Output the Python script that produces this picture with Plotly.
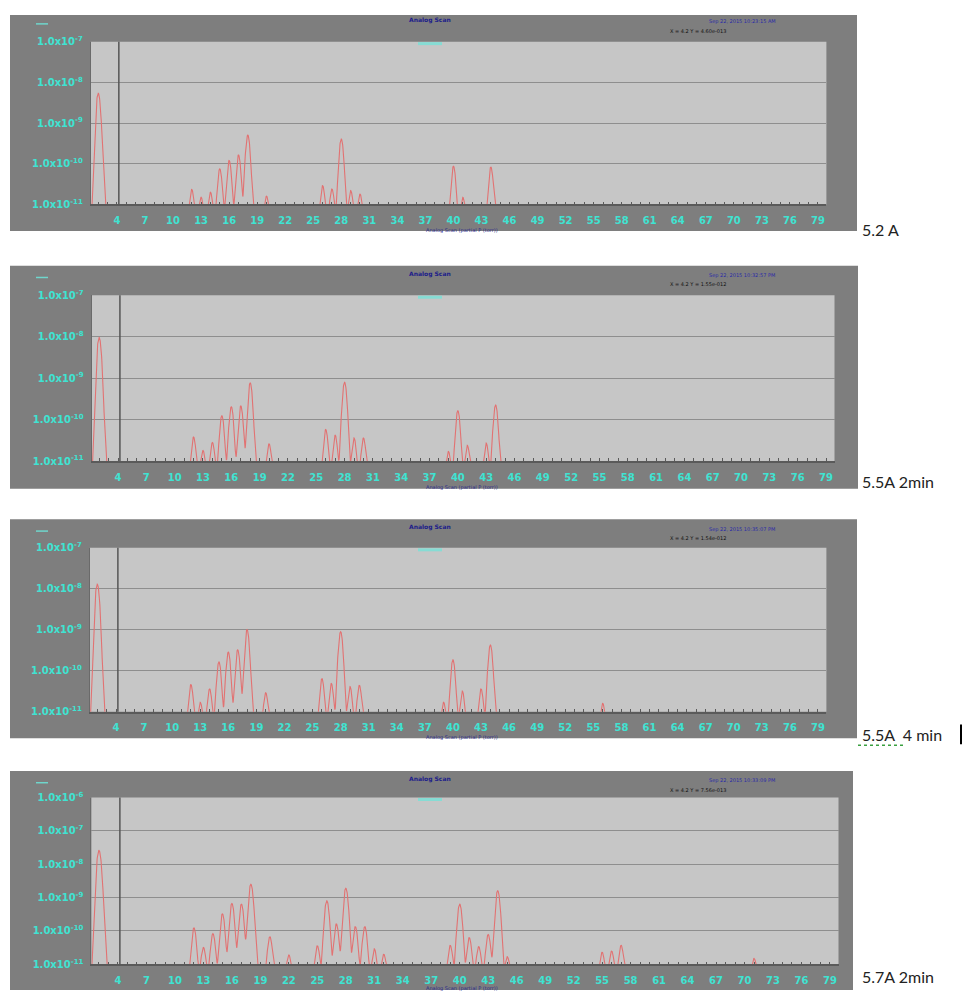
import math
import plotly.graph_objects as go

# page body has an 8px margin: the figure is drawn 8px in from the window corner
OFF = 8
W, H = 975 - 2 * OFF, 1000 - 2 * OFF

# ---------------- data (peak mass [amu], peak partial pressure [torr]) ----------------
masses_1 = [2, 12, 13, 14, 15, 16, 17, 18, 20, 26, 27, 28, 29, 30, 40, 41, 44]
pressures_1 = [5.4e-9, 1.95e-11, 1.1e-11, 1.6e-11, 7.1e-11, 1.17e-10, 1.6e-10, 5.0e-10, 1.2e-11,
               2.5e-11, 2.0e-11, 4.0e-10, 1.8e-11, 1.4e-11, 8.3e-11, 1.1e-11, 7.9e-11]

masses_2 = [2, 12, 13, 14, 15, 16, 17, 18, 20, 26, 27, 28, 29, 30, 39, 40, 41, 43, 44]
pressures_2 = [9.5e-9, 3.4e-11, 1.4e-11, 2.4e-11, 1.2e-10, 2.0e-10, 2.1e-10, 7.6e-10, 2.2e-11,
               5.4e-11, 3.8e-11, 7.9e-10, 3.2e-11, 3.2e-11, 1.3e-11, 1.6e-10, 2.0e-11, 2.3e-11, 2.2e-10]

masses_3 = [2, 12, 13, 14, 15, 16, 17, 18, 20, 26, 27, 28, 29, 30, 39, 40, 41, 43, 44, 56]
pressures_3 = [1.3e-8, 4.2e-11, 1.3e-11, 3.2e-11, 1.6e-10, 2.8e-10, 3.2e-10, 1.0e-9, 2.5e-11,
               6.0e-11, 4.5e-11, 8.9e-10, 3.7e-11, 4.0e-11, 1.3e-11, 1.8e-10, 2.8e-11, 3.2e-11, 4.2e-10, 1.2e-11]

masses_4 = [2, 12, 13, 14, 15, 16, 17, 18, 20, 22, 25, 26, 27, 28, 29, 30, 31, 32,
            39, 40, 41, 42, 43, 44, 45, 55, 56, 57, 71]
pressures_4 = [2.6e-8, 1.2e-10, 2.8e-11, 7.9e-11, 3.2e-10, 6.6e-10, 6.3e-10, 2.5e-9, 6.3e-11, 1.5e-11,
               3.2e-11, 8.0e-10, 1.6e-10, 1.9e-9, 1.3e-10, 1.3e-10, 2.5e-11, 1.6e-11,
               3.3e-11, 6.3e-10, 5.9e-11, 3.0e-11, 7.4e-11, 1.6e-9, 1.3e-11, 1.9e-11, 2.1e-11, 3.3e-11, 1.1e-11]

panel_labels = ["5.2 A", "5.5A 2min", "5.5A  4 min", "5.7A 2min"]
x_tick_values = list(range(4, 80, 3))
y_decades_1 = [-11, -10, -9, -8, -7]
y_decades_2 = [-11, -10, -9, -8, -7]
y_decades_3 = [-11, -10, -9, -8, -7]
y_decades_4 = [-11, -10, -9, -8, -7, -6]
scan_title = "Analog Scan"
scan_dates = ["Sep 22, 2015 10:23:15 AM", "Sep 22, 2015 10:32:57 PM",
              "Sep 22, 2015 10:35:07 PM", "Sep 22, 2015 10:33:09 PM"]
cursor_texts = ["X = 4.2 Y = 4.60e-013", "X = 4.2 Y = 1.55e-012",
                "X = 4.2 Y = 1.54e-012", "X = 4.2 Y = 7.56e-013"]
bottom_caption = "Analog Scan (partial P (torr))"

series = [(masses_1, pressures_1, y_decades_1), (masses_2, pressures_2, y_decades_2),
          (masses_3, pressures_3, y_decades_3), (masses_4, pressures_4, y_decades_4)]

# ---------------- geometry (window pixels) ----------------
panels = [
    dict(outer=(10, 5, 857, 227), plot=(90.8, 35, 826.4, 200)),
    dict(outer=(10, 262, 858, 488), plot=(91.6, 292, 834.5, 460)),
    dict(outer=(10, 519, 857, 741), plot=(89.8, 548, 826.4, 714)),
    dict(outer=(10, 774, 853, 996), plot=(91.4, 801, 838.5, 970)),
]
label_y = [225, 481, 737, 982]


def px(x):
    return (x - OFF) / W


def py(y):
    return 1 - (y - OFF) / H


OUTER = "#7e7e7e"
PLOT_BG = "#c6c6c6"
GRID = "#8e8e8e"
RED = "#e27272"
CYAN = "#3fe3d2"
FLOOR = 4e-12          # instrument noise floor (below the visible range)
SIGMA = 0.18           # peak width used to draw each peak

fig = go.Figure()
shapes, annotations = [], []
layout_axes = {}

scan_x = [1.0 + 0.02 * k for k in range(3951)]


def note(text, x, y, size, color, family="DejaVu Sans", xanchor="center"):
    return dict(text=text, x=px(x), y=py(y), xref="paper", yref="paper",
                xanchor=xanchor, yanchor="middle", showarrow=False,
                font=dict(size=size, color=color, family=family))


for i, (pan, (ms, ps, decs)) in enumerate(zip(panels, series)):
    n = i + 1
    xa = "x" if n == 1 else f"x{n}"
    ya = "y" if n == 1 else f"y{n}"
    ox0, oy0, ox1, oy1 = pan["outer"]
    x0, y0, x1, y1 = pan["plot"]

    # outer dark frame and light plot area
    shapes.append(dict(type="rect", xref="paper", yref="paper", layer="below",
                       x0=px(ox0), x1=px(ox1), y0=py(oy1), y1=py(max(oy0, OFF)),
                       fillcolor=OUTER, line=dict(width=0)))
    shapes.append(dict(type="rect", xref="paper", yref="paper", layer="below",
                       x0=px(x0), x1=px(x1), y0=py(y1), y1=py(y0),
                       fillcolor=PLOT_BG, line=dict(width=0)))

    # spectrum line drawn from the peak list (each peak rendered with a Gaussian profile)
    scan_y = []
    for xv in scan_x:
        s = FLOOR
        for m, p in zip(ms, ps):
            dx = xv - m
            if abs(dx) < 2.0:
                s += p * math.exp(-dx * dx / (2 * SIGMA * SIGMA))
        scan_y.append(s)
    fig.add_trace(go.Scatter(x=scan_x, y=scan_y, mode="lines", xaxis=xa, yaxis=ya,
                             line=dict(color=RED, width=1.1),
                             showlegend=False, hoverinfo="skip"))

    xkey = "xaxis" if n == 1 else f"xaxis{n}"
    ykey = "yaxis" if n == 1 else f"yaxis{n}"
    layout_axes[xkey] = dict(
        domain=[px(x0), px(x1)], anchor=ya, range=[1.2, 79.9],
        tickvals=x_tick_values, ticktext=[f"<b>{v}</b>" for v in x_tick_values],
        tickfont=dict(color=CYAN, size=10, family="DejaVu Sans"),
        ticks="", ticklabelstandoff=6, showgrid=False, zeroline=False,
        showline=True, linecolor="#5a5a5a", linewidth=1.5,
        minor=dict(ticks="inside", dtick=1, ticklen=3, tickcolor="#5a5a5a", showgrid=False),
        fixedrange=True)
    layout_axes[ykey] = dict(
        domain=[py(y1), py(y0)], anchor=xa, type="log", range=[decs[0], decs[-1]],
        tickvals=[10.0 ** k for k in decs],
        ticktext=[f"<b>1.0x10<sup>{k}</sup></b>" for k in decs],
        tickfont=dict(color=CYAN, size=10, family="DejaVu Sans"),
        ticks="", ticklabelstandoff=5, showgrid=True, gridcolor=GRID, gridwidth=1,
        zeroline=False, showline=True, linecolor="#6a6a6a", linewidth=1,
        fixedrange=True)

    # cursor vertical line
    shapes.append(dict(type="line", xref=xa, yref=f"{ya} domain", x0=4.2, x1=4.2, y0=0, y1=1,
                       line=dict(color="#555555", width=1.5)))
    # cyan legend dash under the title
    shapes.append(dict(type="line", xref="paper", yref="paper",
                       x0=px(418), x1=px(442), y0=py(y0 + 2), y1=py(y0 + 2),
                       line=dict(color="#86dcd4", width=3)))
    # small cyan dash top-left
    shapes.append(dict(type="line", xref="paper", yref="paper",
                       x0=px(36), x1=px(48), y0=py(oy0 + 12), y1=py(oy0 + 12),
                       line=dict(color="#6fd6cc", width=1.5)))

    annotations += [
        note(f"<b>{scan_title}</b>", 430, oy0 + 8, 6, "#1c1c8a"),
        note(scan_dates[i], 742, oy0 + 10, 5, "#2a2aa8"),
        note(cursor_texts[i], 698, oy0 + 19, 5, "#111111"),
        note(bottom_caption, 462, oy1 - 1, 5, "#2a2a8a"),
        note(panel_labels[i], 860, label_y[i], 16, "#222222", family="Lato", xanchor="left"),
    ]

# text cursor bar and spell-check squiggle on the third label
shapes.append(dict(type="line", xref="paper", yref="paper", x0=px(961), x1=px(961),
                   y0=py(747), y1=py(727), line=dict(color="#000000", width=2)))
shapes.append(dict(type="line", xref="paper", yref="paper", x0=px(858), x1=px(905),
                   y0=py(748), y1=py(748), line=dict(color="#3aa040", width=1.5, dash="dot")))

fig.update_layout(
    width=W, height=H, margin=dict(l=0, r=0, t=0, b=0),
    paper_bgcolor="white", plot_bgcolor=PLOT_BG,
    shapes=shapes, annotations=annotations, showlegend=False,
    **layout_axes,
)

fig.write_html("out.html")
